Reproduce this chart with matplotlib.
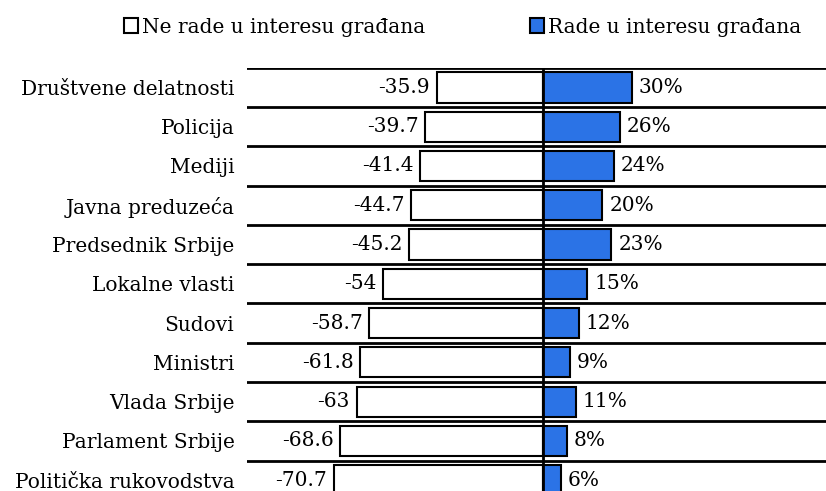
import numpy as np
import matplotlib.pyplot as plt
from matplotlib.patches import Patch

# ------------------------------------------------------------------
# Data
categories = [
    "Društvene delatnosti",
    "Policija",
    "Mediji",
    "Javna preduzeća",
    "Predsednik Srbije",
    "Lokalne vlasti",
    "Sudovi",
    "Ministri",
    "Vlada Srbije",
    "Parlament Srbije",
    "Politička rukovodstva",
]
ne_rade = [-35.9, -39.7, -41.4, -44.7, -45.2, -54, -58.7, -61.8, -63, -68.6, -70.7]
rade = [30, 26, 24, 20, 23, 15, 12, 9, 11, 8, 6]
legend_labels = ["Ne rade u interesu građana", "Rade u interesu građana"]

blue = "#2b73e6"
font = "DejaVu Serif"
plt.rcParams["font.family"] = font
fs = 14.5

# ------------------------------------------------------------------
# Figure
fig = plt.figure(figsize=(8.26, 4.91), dpi=100)
# rows run past the bottom of the figure, the last one is cut off
ax = fig.add_axes([0.299, -0.018, 0.701, 0.880])

y = np.arange(len(categories))
ax.barh(y, ne_rade, height=0.77, color="white", edgecolor="black", lw=1.5, zorder=3)
ax.barh(y, rade, height=0.77, color=blue, edgecolor="black", lw=1.5, zorder=3)

for yi, v in zip(y, ne_rade):
    ax.text(v - 2.2, yi, "{:g}".format(v), ha="right", va="center", fontsize=fs)
for yi, v in zip(y, rade):
    ax.text(v + 2.4, yi, "{:g}%".format(v), ha="left", va="center", fontsize=fs)

# row separators and centre line
for b in np.arange(-0.5, len(categories), 1.0):
    ax.axhline(b, color="black", lw=2, zorder=2)
ax.axvline(0, color="black", lw=2, zorder=4)

ax.set_xlim(-100, 95.6)
ax.set_ylim(len(categories) - 0.5, -0.5)
ax.set_yticks(y)
ax.set_yticklabels(categories, fontsize=fs)
ax.tick_params(axis="y", length=0, pad=9)
ax.set_xticks([])
for s in ax.spines.values():
    s.set_visible(False)

handles = [
    Patch(facecolor="white", edgecolor="black", lw=1.5),
    Patch(facecolor=blue, edgecolor="black", lw=1.5),
]
fig.legend(
    handles,
    legend_labels,
    loc="center",
    bbox_to_anchor=(0.56, 0.945),
    ncol=2,
    frameon=False,
    fontsize=fs,
    handlelength=0.7,
    handleheight=0.7,
    handletextpad=0.2,
    columnspacing=5.2,
)

fig.savefig("out.png", dpi=100)
